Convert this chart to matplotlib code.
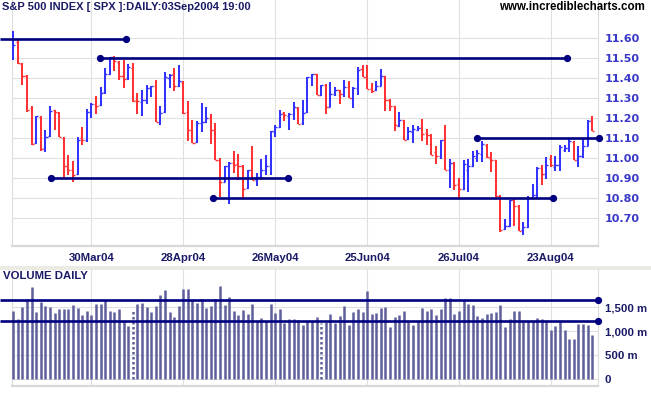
import numpy as np
import pandas as pd
import matplotlib
matplotlib.use('Agg')
import matplotlib.pyplot as plt
from matplotlib.patches import Rectangle

# ---------------- data ----------------
holidays = ['2004-04-09', '2004-05-31', '2004-06-11', '2004-07-05']
dates = pd.bdate_range('2004-03-05', '2004-09-03')
dates = dates[~dates.isin(pd.to_datetime(holidays))]

opens = [11.547, 11.58, 11.47, 11.41, 11.25, 11.075, 11.205, 11.05, 11.11, 11.24,
         11.225, 11.10, 10.96, 10.94, 10.92, 11.10, 11.09, 11.23, 11.27, 11.265,
         11.33, 11.42, 11.505, 11.48, 11.41, 11.40, 11.45, 11.29, 11.28, 11.29,
         11.35, 11.36, 11.18, 11.23, 11.40, 11.42, 11.36, 11.38, 11.23, 11.14,
         11.08, 11.175, 11.18, 11.20, 11.14, 10.99, 10.88, 10.96, 10.975, 10.97,
         10.96, 10.85, 10.94, 10.89, 10.90, 10.94, 10.96, 11.13, 11.155, 11.225,
         11.21, 11.22, 11.25, 11.175, 11.23, 11.405, 11.42, 11.315, 11.367, 11.255,
         11.32, 11.34, 11.32, 11.355, 11.30, 11.35, 11.445, 11.405, 11.345, 11.34,
         11.36, 11.41, 11.29, 11.258, 11.16, 11.19, 11.095, 11.13, 11.14, 11.15,
         11.125, 11.115, 11.03, 11.01, 11.09, 10.94, 10.975, 10.87, 10.845, 10.94,
         10.96, 11.00, 11.02, 11.067, 11.00, 10.99, 10.81, 10.645, 10.66, 10.79,
         10.76, 10.64, 10.655, 10.80, 10.815, 10.95, 10.92, 10.995, 10.955, 10.965,
         11.04, 11.05, 11.08, 10.99, 11.01, 11.06, 11.19]
highs = [11.633, 11.597, 11.475, 11.417, 11.262, 11.208, 11.208, 11.142, 11.258, 11.242,
         11.228, 11.103, 11.017, 10.987, 11.105, 11.155, 11.247, 11.275, 11.312, 11.357,
         11.45, 11.505, 11.512, 11.483, 11.492, 11.472, 11.475, 11.325, 11.342, 11.367,
         11.362, 11.392, 11.258, 11.428, 11.422, 11.45, 11.467, 11.383, 11.287, 11.192,
         11.187, 11.275, 11.253, 11.22, 11.175, 11.00, 10.962, 10.98, 11.033, 11.022,
         10.967, 10.942, 11.062, 10.925, 10.995, 11.017, 11.137, 11.167, 11.242, 11.228,
         11.225, 11.28, 11.255, 11.292, 11.405, 11.422, 11.422, 11.367, 11.37, 11.378,
         11.353, 11.342, 11.392, 11.383, 11.353, 11.453, 11.463, 11.463, 11.375, 11.383,
         11.445, 11.412, 11.297, 11.26, 11.228, 11.192, 11.155, 11.163, 11.158, 11.197,
         11.145, 11.122, 11.058, 11.092, 11.167, 10.997, 10.98, 10.90, 10.992, 10.995,
         11.037, 11.042, 11.087, 11.07, 11.028, 10.992, 10.817, 10.697, 10.792, 10.797,
         10.763, 10.68, 10.808, 10.87, 10.953, 10.967, 11.005, 11.017, 11.008, 11.067,
         11.067, 11.10, 11.083, 11.058, 11.10, 11.192, 11.212]
lows = [11.488, 11.472, 11.367, 11.23, 11.063, 11.072, 11.037, 11.028, 11.105, 11.138,
        11.103, 10.897, 10.917, 10.878, 10.917, 11.063, 11.08, 11.20, 11.22, 11.262,
        11.32, 11.417, 11.433, 11.392, 11.35, 11.392, 11.28, 11.222, 11.208, 11.272,
        11.305, 11.18, 11.163, 11.225, 11.35, 11.333, 11.355, 11.22, 11.083, 11.075,
        11.075, 11.13, 11.175, 11.07, 10.992, 10.803, 10.878, 10.77, 10.925, 10.892,
        10.80, 10.845, 10.892, 10.858, 10.895, 10.917, 10.913, 11.103, 11.15, 11.183,
        11.138, 11.188, 11.17, 11.167, 11.225, 11.358, 11.313, 11.31, 11.222, 11.253,
        11.312, 11.272, 11.303, 11.30, 11.25, 11.317, 11.405, 11.345, 11.325, 11.337,
        11.36, 11.233, 11.233, 11.133, 11.153, 11.092, 11.092, 11.075, 11.133, 11.083,
        11.067, 11.013, 10.97, 10.997, 10.942, 10.85, 10.838, 10.795, 10.84, 10.83,
        10.955, 10.98, 10.978, 11.00, 10.928, 10.805, 10.628, 10.638, 10.655, 10.658,
        10.633, 10.613, 10.65, 10.797, 10.797, 10.867, 10.897, 10.953, 10.933, 10.937,
        11.028, 11.03, 10.992, 10.953, 11.00, 11.058, 11.137]
closes = [11.567, 11.475, 11.408, 11.242, 11.072, 11.208, 11.045, 11.105, 11.237, 11.228,
          11.103, 10.958, 10.942, 10.917, 11.092, 11.092, 11.23, 11.272, 11.262, 11.323,
          11.42, 11.505, 11.483, 11.408, 11.395, 11.453, 11.287, 11.283, 11.292, 11.35,
          11.358, 11.18, 11.225, 11.405, 11.417, 11.358, 11.383, 11.225, 11.142, 11.075,
          11.175, 11.178, 11.20, 11.142, 10.992, 10.878, 10.958, 10.975, 10.967, 10.962,
          10.847, 10.938, 10.892, 10.903, 10.938, 10.958, 11.133, 11.153, 11.22, 11.217,
          11.22, 11.253, 11.172, 11.225, 11.405, 11.42, 11.313, 11.367, 11.253, 11.32,
          11.338, 11.322, 11.353, 11.30, 11.35, 11.442, 11.405, 11.345, 11.337, 11.36,
          11.408, 11.292, 11.258, 11.163, 11.188, 11.092, 11.133, 11.147, 11.15, 11.12,
          11.117, 11.017, 11.012, 11.088, 10.942, 10.975, 10.867, 10.845, 10.97, 10.958,
          11.008, 11.025, 11.072, 11.003, 10.988, 10.808, 10.642, 10.658, 10.788, 10.762,
          10.637, 10.653, 10.80, 10.817, 10.95, 10.92, 10.967, 10.963, 10.965, 11.053,
          11.05, 11.083, 10.992, 11.008, 11.058, 11.183, 11.137]
volumes = [1423, 1256, 1506, 1673, 1929, 1402, 1610, 1527, 1506, 1388,
           1464, 1464, 1464, 1548, 1485, 1339, 1423, 1339, 1568, 1568,
           1645, 1423, 1402, 1464, 1215, 1110, 1444, 1568, 1589, 1506,
           1402, 1527, 1756, 1860, 1402, 1298, 1527, 1881, 1881, 1652,
           1589, 1673, 1485, 1527, 1673, 1943, 1548, 1714, 1423, 1339,
           1444, 1360, 1568, 1215, 1277, 1215, 1568, 1381, 1464, 1173,
           1256, 1256, 1235, 1131, 1215, 1215, 1298, 1180, 1201, 1360,
           1166, 1319, 1527, 1131, 1402, 1464, 1402, 1839, 1360, 1381,
           1485, 1506, 1090, 1298, 1339, 1423, 1194, 1131, 1215, 1485,
           1423, 1464, 1339, 1464, 1693, 1693, 1360, 1423, 1652, 1568,
           1548, 1319, 1277, 1360, 1381, 1402, 1548, 1090, 1256, 1423,
           1423, 1201, 1215, 1215, 1277, 1256, 1215, 1027, 1110, 1194,
           1027, 840, 840, 1152, 1152, 1131, 923]
dotted_volume_bars = [26, 67]

tick_dates = ['2004-03-30', '2004-04-28', '2004-05-26', '2004-06-25', '2004-07-26', '2004-08-23']
tick_labels = ['30Mar04', '28Apr04', '26May04', '25Jun04', '26Jul04', '23Aug04']
price_ticks = [10.70, 10.80, 10.90, 11.00, 11.10, 11.20, 11.30, 11.40, 11.50, 11.60]
vol_ticks = [0, 500, 1000, 1500]
vol_tick_labels = ['0', '500 m', '1,000 m', '1,500 m']

# horizontal support / resistance lines: (start bar, end bar, level, dot at start)
price_lines = [(-2.9, 24.5, 11.597, False),
               (18.9, 120.5, 11.499, True),
               (8.2, 59.8, 10.898, True),
               (43.5, 117.4, 10.80, True),
               (100.9, 127.4, 11.10, True)]
volume_lines = [(-2.9, 127.3, 1652), (-2.9, 127.3, 1212)]

# ---------------- drawing ----------------
W, H = 651, 395
fig = plt.figure(figsize=(W / 100, H / 100), dpi=100)
fig.patch.set_facecolor('white')

NAVY = '#000080'
BLUE = '#3333ff'
RED = '#ff3333'
GRID = '#e0e0e0'
PRICE_LBL = '#3838c8'
DARK_LBL = '#1a1a66'
ARIAL = 'Liberation Sans'

x = np.arange(len(dates))
opens_a = np.array(opens); highs_a = np.array(highs)
lows_a = np.array(lows); closes_a = np.array(closes)
tick_pos = [int(np.where(dates == pd.Timestamp(d))[0][0]) for d in tick_dates]

xl = (-0.28, 127.25)

ax = fig.add_axes([12 / W, (H - 245.7) / H, 586 / W, 245.7 / H])
axv = fig.add_axes([12 / W, (H - 386) / H, 586 / W, (386 - 269.5) / H])

# separator band between panels
fig.patches.append(Rectangle((0, (H - 269.5) / H), 1, 3.5 / H, transform=fig.transFigure,
                             facecolor='#ebebe3', edgecolor='none', zorder=0))

for a in (ax, axv):
    a.set_xlim(*xl)
    a.set_facecolor('white')
    a.grid(True, color=GRID, lw=0.8, zorder=0)
    a.set_axisbelow(True)
    a.set_xticks(tick_pos)
    a.yaxis.tick_right()
    a.tick_params(length=0)
    a.spines['top'].set_visible(False)
    for s in ('left', 'right'):
        a.spines[s].set_color('#dcdcdc')
        a.spines[s].set_linewidth(0.8)
    a.spines['bottom'].set_color('#d8d8d8')
    a.spines['bottom'].set_linewidth(1.6)

# price panel
ax.set_ylim(10.5615, 11.79)
ax.set_yticks(price_ticks)
ax.set_yticklabels(['%.2f' % t for t in price_ticks], color=PRICE_LBL,
                   fontsize=8, fontweight='bold')
ax.tick_params(axis='y', pad=5)
ax.set_xticklabels(tick_labels, color=DARK_LBL, fontsize=8.2, fontweight='bold',
                   family=ARIAL)
ax.tick_params(axis='x', pad=5)

up = closes_a >= opens_a
cols = np.where(up, BLUE, RED)
ax.vlines(x, lows_a, highs_a, colors=cols, lw=1.45, zorder=3)
ax.hlines(opens_a, x - 0.45, x, colors=cols, lw=1.0, zorder=3)
ax.hlines(closes_a, x, x + 0.45, colors=cols, lw=1.0, zorder=3)

for x0, x1, lvl, dot0 in price_lines:
    ax.plot([x0, x1], [lvl, lvl], color=NAVY, lw=1.9, clip_on=False, zorder=4,
            solid_capstyle='butt')
    pts = [x0, x1] if dot0 else [x1]
    ax.plot(pts, [lvl] * len(pts), 'o', color=NAVY, ms=4.2, clip_on=False, zorder=5)

# volume panel
axv.set_ylim(-140, 2287)
axv.set_yticks(vol_ticks)
axv.set_yticklabels(vol_tick_labels, color=DARK_LBL, fontsize=8.2, fontweight='bold',
                    family=ARIAL)
axv.tick_params(axis='y', pad=5)
axv.set_xticklabels([])

vol_a = np.array(volumes)
solid = np.array([i not in dotted_volume_bars for i in x])
axv.vlines(x[solid], 0, vol_a[solid], colors='#5f5f9c', lw=1.8, zorder=3)
axv.vlines(x[~solid], 0, vol_a[~solid], colors='#5f5f9c', lw=1.8, zorder=3,
           linestyles=(0, (1, 1)))
for x0, x1, lvl in volume_lines:
    axv.plot([x0, x1], [lvl, lvl], color=NAVY, lw=1.9, clip_on=False, zorder=4,
             solid_capstyle='butt')
    axv.plot([x1], [lvl], 'o', color=NAVY, ms=4.2, clip_on=False, zorder=5)

# texts
fig.text(2 / W, 1 - 7 / H, 'S&P 500 INDEX [ SPX ]:DAILY:03Sep2004 19:00',
         color=DARK_LBL, fontsize=8, fontweight='bold', ha='left', va='center',
         family=ARIAL)
fig.text(645 / W, 1 - 7.5 / H, 'www.incrediblecharts.com',
         color='black', fontsize=8.3, fontweight='bold', ha='right', va='center',
         family=ARIAL)
fig.text(3 / W, 1 - 276 / H, 'VOLUME DAILY', color=DARK_LBL, fontsize=8.2,
         fontweight='bold', ha='left', va='center', family=ARIAL)

fig.savefig('out.png', dpi=100, facecolor='white')
